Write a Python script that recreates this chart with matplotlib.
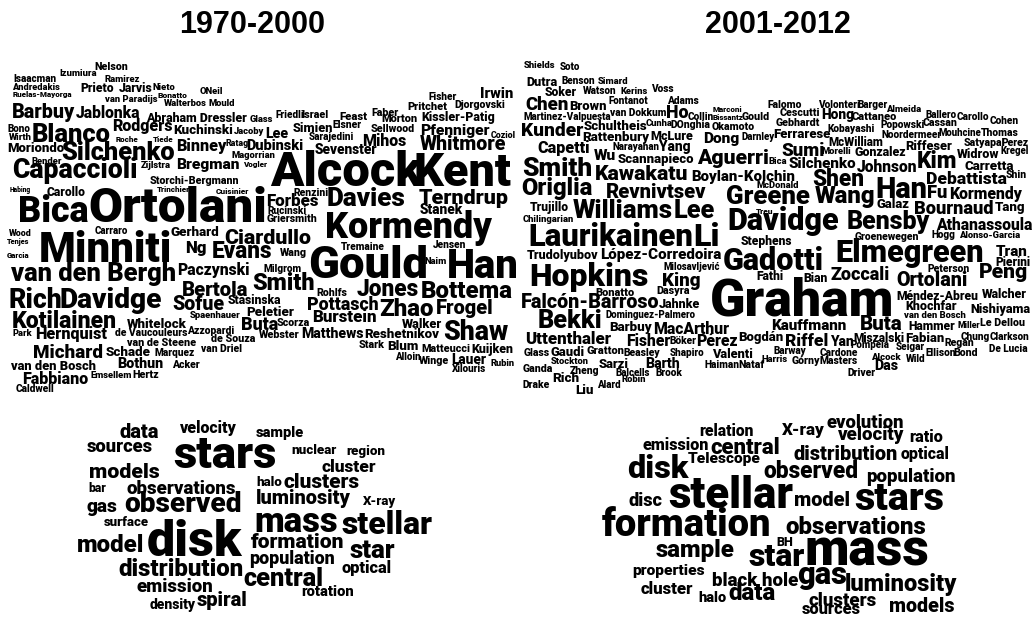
import matplotlib
matplotlib.use("Agg")
import matplotlib.pyplot as plt
from matplotlib.textpath import TextPath
from matplotlib.font_manager import FontProperties

# ---------------- data: words of each cloud ----------------
titles = ["1970-2000", "2001-2012"]

authors_1970_2000 = [
    "Nelson", "Izumiura", "Isaacman", "Ramirez", "Andredakis", "Ruelas-Mayorga", "Prieto", "Jarvis",
    "Nieto", "Bonatto", "ONeil", "van Paradijs", "Walterbos", "Mould", "Barbuy", "Jablonka",
    "Abraham Dressler", "Glass", "Bono", "Blanco", "Rodgers", "Kuchinski", "Jacoby", "Lee", "Wirth",
    "Roche", "Tiede", "Ratag", "Moriondo", "Silchenko", "Binney", "Dubinski", "Bender", "Magorrian",
    "Capaccioli", "Zijlstra", "Bregman", "Vogler", "Storchi-Bergmann", "Habing", "Carollo",
    "Trinchieri", "Cuisinier", "Bica", "Ortolani", "Alcock", "Kent", "Renzini", "Davies", "Terndrup",
    "Forbes", "Stanek", "Rucinski", "Griersmith", "Kormendy", "Wood", "Tenjes", "Garcia", "Carraro",
    "Minniti", "Gerhard", "Ciardullo", "Ng", "Evans", "Wang", "Tremaine", "Jensen", "Gould", "Naim",
    "Han", "van den Bergh", "Paczynski", "Milgrom", "Bertola", "Smith", "Rohlfs", "Jones", "Bottema",
    "Rich", "Davidge", "Sofue", "Stasinska", "Pottasch", "Zhao", "Frogel", "Kotilainen", "Spaenhauer",
    "Peletier", "Whitelock", "Burstein", "Walker", "Shaw", "Park", "Hernquist", "de Vaucouleurs",
    "Azzopardi", "Buta", "Scorza", "Webster", "Matthews", "Reshetnikov", "van de Steene", "de Souza",
    "Michard", "Schade", "Marquez", "van Driel", "Stark", "Blum", "Matteucci", "Kuijken",
    "van den Bosch", "Bothun", "Acker", "Alloin", "Winge", "Lauer", "Rubin", "Xilouris", "Fabbiano",
    "Emsellem", "Hertz", "Caldwell", "Friedli", "Israel", "Feast", "Faber", "Morton", "Fisher",
    "Pritchet", "Djorgovski", "Irwin", "Kissler-Patig", "Elsner", "Sellwood", "Simien", "Pfenniger",
    "Coziol", "Sarajedini", "Mihos", "Whitmore", "Sevenster",
]

authors_2001_2012 = [
    "Shields", "Soto", "Dutra", "Benson", "Simard", "Soker", "Watson", "Kerins", "Voss", "Chen",
    "Brown", "Fontanot", "Adams", "Ho", "van Dokkum", "Martinez-Valpuesta", "Collin", "Marconi",
    "Bissantz", "Gould", "Falomo", "Volonteri", "Barger", "Almeida", "Cescutti", "Hong", "Cattaneo",
    "Ballero", "Carollo", "Cohen", "Gebhardt", "Kobayashi", "Popowski", "Cassan", "Kunder",
    "Schultheis", "Cunha", "DOnghia", "Okamoto", "Noordermeer", "Mouhcine", "Thomas", "Ferrarese",
    "Rattenbury", "McLure", "Dong", "Darnley", "McWilliam", "Satyapal", "Perez", "Sumi", "Morelli",
    "Gonzalez", "Riffeser", "Narayanan", "Yang", "Capetti", "Kregel", "Widrow", "Wu", "Scannapieco",
    "Aguerri", "Bica", "Kim", "Silchenko", "Johnson", "Carretta", "Smith", "Kawakatu",
    "Boylan-Kolchin", "McDonald", "Shen", "Debattista", "Shin", "Origlia", "Revnivtsev", "Greene",
    "Han", "Wang", "Fu", "Kormendy", "Galaz", "Bournaud", "Tang", "Trujillo", "Williams", "Lee",
    "Treu", "Chilingarian", "Davidge", "Bensby", "Athanassoula", "Laurikainen", "Li", "Stephens",
    "Groenewegen", "Hogg", "Alonso-Garcia", "Elmegreen", "Tran", "Trudolyubov", "López-Corredoira",
    "Gadotti", "Pierini", "Milosavljević", "Hopkins", "Peterson", "Peng", "King", "Fathi", "Bian",
    "Zoccali", "Ortolani", "Graham", "Bonatto", "Dasyra", "Falcón-Barroso", "Jahnke", "Méndez-Abreu",
    "Walcher", "Khochfar", "Nishiyama", "van den Bosch", "Bekki", "Dominguez-Palmero", "Kauffmann",
    "Buta", "Hammer", "Miller", "Le Dellou", "Barbuy", "MacArthur", "Uttenthaler", "Fisher", "Böker",
    "Pérez", "Bogdán", "Riffel", "Yan", "Miszalski", "Fabian", "Chung", "Clarkson", "Pompéia",
    "Regan", "Seigar", "De Lucia", "Glass", "Gaudi", "Gratton", "Beasley", "Shapiro", "Valenti",
    "Barway", "Cardone", "Ellison", "Bond", "Alcock", "Wild", "Harris", "Górny", "Masters", "Das",
    "Driver", "Stockton", "Sarzi", "Barth", "Haiman", "Nataf", "Ganda", "Zheng", "Balcells", "Brook",
    "Rich", "Drake", "Alard", "Robin", "Liu",
]

keywords_1970_2000 = [
    "velocity", "data", "sources", "stars", "sample", "nuclear", "region", "models", "cluster", "bar",
    "observations", "halo", "clusters", "gas", "observed", "luminosity", "X-ray", "surface", "mass",
    "stellar", "model", "disk", "formation", "star", "distribution", "population", "optical",
    "central", "emission", "rotation", "density", "spiral",
]

keywords_2001_2012 = [
    "relation", "emission", "central", "X-ray", "evolution", "velocity", "ratio", "Telescope",
    "distribution", "optical", "disk", "observed", "population", "stellar", "disc", "model", "stars",
    "formation", "observations", "BH", "sample", "star", "mass", "properties", "black hole", "gas",
    "luminosity", "cluster", "halo", "data", "clusters", "sources", "models",
]

# ---------------- layout: ink box of each word (left, right, top, baseline) in pixels ----------------
layout_authors_1970_2000 = {
    "Nelson": (96, 127, 63, 70), "Izumiura": (61, 96, 69, 75), "Isaacman": (14, 55, 76, 82),
    "Ramirez": (105, 139, 76, 82), "Andredakis": (12, 60, 84, 90), "Ruelas-Mayorga": (8, 77, 91, 96),
    "Prieto": (79, 115, 84, 92), "Jarvis": (118, 152, 84, 92), "Nieto": (153, 176, 83, 89),
    "Bonatto": (159, 187, 92, 97), "ONeil": (200, 223, 88, 94), "van Paradijs": (104, 157, 95, 101),
    "Walterbos": (163, 207, 99, 105), "Mould": (208, 235, 100, 106), "Barbuy": (13, 74, 103, 117),
    "Jablonka": (77, 140, 104, 117), "Abraham Dressler": (147, 247, 111, 121), "Glass": (250, 273, 115, 121),
    "Bono": (8, 30, 125, 131), "Blanco": (34, 110, 120, 141), "Rodgers": (113, 173, 119, 130),
    "Kuchinski": (175, 232, 124, 133), "Jacoby": (233, 265, 128, 134), "Lee": (267, 288, 127, 137),
    "Wirth": (8, 33, 134, 140), "Roche": (115, 140, 137, 142), "Tiede": (152, 175, 137, 142),
    "Ratag": (227, 247, 140, 146), "Moriondo": (8, 63, 142, 152), "Silchenko": (63, 174, 138, 160),
    "Binney": (177, 227, 140, 151), "Dubinski": (248, 303, 139, 149), "Bender": (32, 62, 157, 163),
    "Magorrian": (233, 275, 151, 157), "Capaccioli": (10, 140, 158, 177), "Zijlstra": (141, 170, 162, 168),
    "Bregman": (175, 241, 158, 168), "Vogler": (242, 268, 162, 167), "Storchi-Bergmann": (142, 247, 177, 184),
    "Habing": (8, 33, 187, 191), "Carollo": (42, 90, 187, 195), "Trinchieri": (156, 192, 187, 192),
    "Cuisinier": (217, 247, 187, 193), "Bica": (20, 87, 195, 222), "Ortolani": (88, 267, 186, 222),
    "Alcock": (270, 422, 149, 185), "Kent": (417, 511, 149, 185), "Renzini": (296, 327, 188, 195),
    "Davies": (329, 405, 187, 206), "Terndrup": (420, 508, 186, 203), "Forbes": (268, 318, 194, 206),
    "Stanek": (421, 463, 204, 214), "Rucinski": (270, 305, 207, 214), "Griersmith": (269, 315, 215, 222),
    "Kormendy": (315, 503, 212, 238), "Wood": (10, 30, 229, 235), "Tenjes": (8, 28, 238, 244),
    "Garcia": (8, 28, 252, 258), "Carraro": (95, 127, 227, 233), "Minniti": (42, 170, 228, 261),
    "Gerhard": (172, 218, 227, 236), "Ciardullo": (225, 310, 228, 243), "Ng": (185, 207, 242, 253),
    "Evans": (207, 278, 243, 258), "Wang": (281, 305, 247, 255), "Tremaine": (343, 383, 242, 249),
    "Jensen": (434, 464, 240, 247), "Gould": (310, 425, 243, 277), "Naim": (425, 446, 257, 263),
    "Han": (450, 517, 247, 278), "van den Bergh": (10, 175, 263, 281), "Paczynski": (178, 248, 263, 274),
    "Milgrom": (266, 300, 264, 271), "Bertola": (183, 247, 280, 295), "Smith": (253, 313, 272, 290),
    "Rohlfs": (318, 346, 289, 296), "Jones": (358, 418, 278, 295), "Bottema": (423, 512, 281, 298),
    "Rich": (10, 60, 287, 307), "Davidge": (60, 163, 287, 307), "Sofue": (173, 223, 295, 310),
    "Stasinska": (226, 283, 296, 304), "Pottasch": (308, 377, 295, 309), "Zhao": (380, 432, 298, 315),
    "Frogel": (433, 497, 300, 314), "Kotilainen": (13, 115, 310, 328), "Spaenhauer": (190, 240, 312, 318),
    "Peletier": (248, 293, 306, 315), "Whitelock": (128, 187, 317, 327), "Burstein": (314, 376, 310, 322),
    "Walker": (402, 441, 317, 327), "Shaw": (444, 507, 320, 339), "Park": (13, 32, 329, 335),
    "Hernquist": (36, 107, 328, 339), "de Vaucouleurs": (118, 185, 328, 335), "Azzopardi": (189, 232, 325, 333),
    "Buta": (242, 277, 317, 330), "Scorza": (278, 308, 318, 325), "Webster": (261, 298, 330, 338),
    "Matthews": (303, 363, 328, 338), "Reshetnikov": (365, 438, 328, 338), "van de Steene": (129, 193, 337, 345),
    "de Souza": (213, 254, 334, 341), "Michard": (35, 102, 343, 357), "Schade": (107, 150, 347, 356),
    "Marquez": (157, 193, 348, 355), "van Driel": (203, 240, 344, 351), "Stark": (360, 384, 341, 348),
    "Blum": (388, 417, 339, 349), "Matteucci": (424, 468, 345, 352), "Kuijken": (473, 513, 343, 353),
    "van den Bosch": (12, 95, 358, 370), "Bothun": (119, 163, 358, 368), "Acker": (173, 198, 360, 367),
    "Alloin": (396, 419, 353, 360), "Winge": (420, 447, 357, 364), "Lauer": (453, 484, 355, 364),
    "Rubin": (492, 513, 358, 366), "Xilouris": (453, 484, 365, 372), "Fabbiano": (23, 87, 371, 383),
    "Emsellem": (91, 132, 372, 378), "Hertz": (134, 157, 370, 377), "Caldwell": (18, 53, 385, 392),
    "Friedli": (277, 302, 111, 118), "Israel": (303, 327, 111, 118), "Feast": (341, 367, 113, 120),
    "Faber": (373, 397, 107, 115), "Morton": (383, 415, 115, 122), "Fisher": (430, 455, 92, 100),
    "Pritchet": (410, 446, 102, 110), "Djorgovski": (457, 503, 99, 107), "Irwin": (481, 513, 88, 98),
    "Kissler-Patig": (423, 495, 110, 121), "Elsner": (334, 360, 121, 128), "Sellwood": (373, 413, 124, 131),
    "Simien": (294, 332, 122, 132), "Pfenniger": (421, 488, 122, 134), "Coziol": (492, 514, 130, 137),
    "Sarajedini": (311, 352, 133, 140), "Mihos": (363, 405, 133, 145), "Whitmore": (420, 505, 135, 150),
    "Sevenster": (316, 377, 143, 153),
}

layout_authors_2001_2012 = {
    "Shields": (525, 554, 62, 68), "Soto": (560, 580, 63, 69), "Dutra": (526, 558, 77, 85),
    "Benson": (563, 594, 77, 83), "Simard": (598, 627, 78, 84), "Soker": (545, 577, 87, 95),
    "Watson": (583, 615, 87, 93), "Kerins": (621, 647, 88, 94), "Voss": (652, 672, 84, 91),
    "Chen": (526, 569, 96, 109), "Brown": (570, 605, 99, 109), "Fontanot": (608, 648, 98, 104),
    "Adams": (668, 697, 96, 103), "Ho": (667, 687, 104, 117), "van Dokkum": (612, 664, 109, 116),
    "Martinez-Valpuesta": (527, 608, 112, 119), "Collin": (689, 712, 112, 119), "Marconi": (714, 742, 107, 112),
    "Bissantz": (714, 742, 114, 120), "Gould": (743, 768, 112, 119), "Falomo": (770, 801, 100, 107),
    "Volonteri": (820, 858, 100, 107), "Barger": (859, 886, 100, 107), "Almeida": (887, 919, 105, 112),
    "Cescutti": (782, 818, 108, 115), "Hong": (823, 852, 109, 118), "Cattaneo": (854, 895, 112, 119),
    "Ballero": (927, 955, 111, 118), "Carollo": (958, 987, 113, 120), "Cohen": (991, 1017, 117, 124),
    "Gebhardt": (778, 819, 118, 125), "Kobayashi": (830, 873, 124, 131), "Popowski": (883, 923, 121, 128),
    "Cassan": (924, 955, 118, 125), "Kunder": (523, 583, 120, 135), "Schultheis": (586, 644, 121, 130),
    "Cunha": (647, 672, 119, 125), "DOnghia": (673, 709, 120, 127), "Okamoto": (714, 753, 123, 130),
    "Noordermeer": (884, 939, 130, 137), "Mouhcine": (941, 980, 128, 135), "Thomas": (983, 1017, 128, 135),
    "Ferrarese": (776, 828, 129, 138), "Rattenbury": (584, 648, 131, 140), "McLure": (652, 693, 130, 140),
    "Dong": (702, 740, 132, 142), "Darnley": (743, 773, 133, 140), "McWilliam": (830, 883, 135, 145),
    "Satyapal": (966, 1003, 138, 146), "Perez": (1003, 1027, 138, 146), "Sumi": (782, 823, 141, 155),
    "Morelli": (823, 850, 147, 153), "Gonzalez": (855, 905, 146, 156), "Riffeser": (908, 950, 141, 150),
    "Narayanan": (615, 658, 143, 150), "Yang": (660, 688, 141, 150), "Capetti": (537, 590, 142, 153),
    "Kregel": (1002, 1027, 147, 154), "Widrow": (957, 998, 148, 158), "Wu": (594, 615, 150, 160),
    "Scannapieco": (621, 691, 154, 163), "Aguerri": (698, 768, 145, 163), "Bica": (770, 786, 158, 164),
    "Kim": (918, 955, 150, 167), "Silchenko": (789, 855, 155, 167), "Johnson": (858, 917, 161, 172),
    "Carretta": (965, 1013, 160, 170), "Smith": (523, 590, 155, 176), "Kawakatu": (592, 692, 165, 180),
    "Boylan-Kolchin": (693, 795, 168, 180), "McDonald": (757, 798, 182, 188), "Shen": (813, 863, 170, 186),
    "Debattista": (927, 1005, 170, 183), "Shin": (1007, 1025, 170, 178), "Origlia": (523, 592, 177, 194),
    "Revnivtsev": (602, 712, 183, 197), "Greene": (728, 810, 185, 203), "Han": (877, 925, 177, 197),
    "Wang": (813, 877, 187, 203), "Fu": (927, 948, 186, 198), "Kormendy": (950, 1021, 186, 198),
    "Galaz": (878, 909, 198, 208), "Bournaud": (915, 992, 198, 214), "Tang": (996, 1023, 202, 211),
    "Trujillo": (532, 567, 203, 211), "Williams": (573, 671, 197, 217), "Lee": (674, 715, 200, 217),
    "Treu": (757, 772, 207, 213), "Chilingarian": (525, 572, 215, 221), "Davidge": (723, 845, 208, 230),
    "Bensby": (848, 929, 211, 229), "Athanassoula": (936, 1031, 218, 229), "Laurikainen": (531, 692, 222, 245),
    "Li": (695, 718, 222, 245), "Stephens": (740, 793, 236, 244), "Groenewegen": (857, 916, 232, 239),
    "Hogg": (932, 954, 232, 238), "Alonso-Garcia": (960, 1018, 232, 238), "Elmegreen": (830, 990, 240, 262),
    "Tran": (997, 1027, 245, 255), "Trudolyubov": (527, 597, 248, 258), "López-Corredoira": (601, 720, 247, 259),
    "Gadotti": (723, 823, 248, 270), "Pierini": (997, 1028, 256, 265), "Milosavljević": (666, 718, 262, 270),
    "Hopkins": (529, 650, 262, 285), "Peterson": (930, 968, 264, 272), "Peng": (980, 1028, 263, 277),
    "King": (663, 700, 272, 285), "Fathi": (757, 782, 272, 280), "Bian": (805, 827, 273, 281),
    "Zoccali": (832, 889, 265, 279), "Ortolani": (898, 967, 272, 286), "Graham": (708, 895, 277, 315),
    "Bonatto": (598, 633, 288, 295), "Dasyra": (658, 688, 287, 294), "Falcón-Barroso": (522, 658, 291, 307),
    "Jahnke": (659, 699, 296, 307), "Méndez-Abreu": (898, 978, 289, 300), "Walcher": (983, 1027, 287, 297),
    "Khochfar": (907, 957, 300, 310), "Nishiyama": (973, 1028, 304, 313), "van den Bosch": (904, 965, 312, 318),
    "Bekki": (538, 602, 310, 328), "Dominguez-Palmero": (609, 692, 310, 317), "Kauffmann": (772, 845, 318, 330),
    "Buta": (861, 901, 315, 329), "Hammer": (910, 955, 320, 330), "Miller": (959, 979, 320, 327),
    "Le Dellou": (982, 1022, 319, 326), "Barbuy": (611, 650, 321, 330), "MacArthur": (654, 728, 321, 334),
    "Uttenthaler": (526, 610, 331, 343), "Fisher": (627, 669, 333, 345), "Böker": (671, 695, 337, 344),
    "Pérez": (697, 736, 335, 346), "Bogdán": (739, 782, 331, 341), "Riffel": (786, 826, 330, 346),
    "Yan": (831, 852, 337, 346), "Miszalski": (855, 904, 330, 342), "Fabian": (906, 943, 330, 341),
    "Chung": (962, 988, 331, 339), "Clarkson": (992, 1028, 331, 339), "Pompéia": (853, 888, 340, 348),
    "Regan": (946, 972, 339, 346), "Seigar": (897, 923, 342, 350), "De Lucia": (991, 1026, 343, 351),
    "Glass": (525, 548, 348, 355), "Gaudi": (552, 584, 345, 355), "Gratton": (588, 623, 347, 354),
    "Beasley": (626, 659, 347, 355), "Shapiro": (671, 702, 347, 355), "Valenti": (713, 752, 348, 358),
    "Barway": (775, 806, 347, 353), "Cardone": (822, 857, 349, 356), "Ellison": (927, 954, 348, 355),
    "Bond": (955, 976, 349, 356), "Alcock": (872, 899, 352, 359), "Wild": (907, 924, 353, 361),
    "Harris": (760, 790, 355, 361), "Górny": (793, 819, 357, 364), "Masters": (822, 856, 357, 364),
    "Das": (876, 897, 360, 369), "Driver": (849, 874, 368, 375), "Stockton": (550, 590, 358, 364),
    "Sarzi": (600, 628, 357, 367), "Barth": (647, 679, 357, 367), "Haiman": (707, 738, 359, 367),
    "Nataf": (740, 763, 360, 368), "Ganda": (524, 552, 365, 372), "Zheng": (571, 597, 366, 373),
    "Balcells": (617, 648, 368, 375), "Brook": (657, 681, 368, 375), "Rich": (554, 578, 373, 382),
    "Drake": (524, 548, 380, 387), "Alard": (598, 619, 380, 387), "Robin": (622, 645, 376, 382),
    "Liu": (576, 592, 383, 393),
}

layout_keywords_1970_2000 = {
    "velocity": (170, 247, 421, 432), "data": (119, 159, 424, 438), "sources": (88, 152, 440, 451),
    "stars": (162, 288, 438, 467), "sample": (252, 307, 427, 437), "nuclear": (292, 337, 445, 454),
    "region": (347, 385, 446, 455), "models": (89, 160, 462, 477), "cluster": (320, 377, 460, 472),
    "bar": (87, 107, 484, 492), "observations": (117, 245, 480, 493), "halo": (256, 283, 477, 486),
    "clusters": (285, 359, 472, 488), "gas": (88, 117, 500, 511), "observed": (117, 248, 492, 512),
    "luminosity": (250, 358, 490, 504), "X-ray": (363, 395, 494, 504), "surface": (100, 153, 517, 526),
    "mass": (257, 337, 507, 531), "stellar": (343, 432, 508, 533), "model": (78, 143, 535, 552),
    "disk": (149, 243, 518, 555), "formation": (247, 347, 533, 548), "star": (350, 395, 542, 558),
    "distribution": (117, 245, 558, 575), "population": (250, 333, 550, 564), "optical": (342, 390, 560, 572),
    "central": (245, 322, 565, 585), "emission": (138, 212, 578, 591), "rotation": (302, 353, 586, 596),
    "density": (150, 195, 598, 608), "spiral": (197, 247, 592, 606),
}

layout_keywords_2001_2012 = {
    "relation": (700, 752, 425, 436), "emission": (643, 708, 439, 450), "central": (711, 778, 437, 453),
    "X-ray": (783, 825, 423, 435), "evolution": (828, 903, 415, 428), "velocity": (836, 907, 427, 440),
    "ratio": (910, 943, 430, 441), "Telescope": (689, 760, 452, 463), "distribution": (795, 897, 445, 460),
    "optical": (901, 948, 447, 458), "disk": (628, 688, 454, 478), "observed": (762, 860, 462, 478),
    "population": (865, 957, 468, 481), "stellar": (670, 793, 472, 508), "disc": (629, 661, 490, 505),
    "model": (793, 850, 492, 506), "stars": (850, 948, 485, 510), "formation": (600, 772, 507, 535),
    "observations": (776, 935, 517, 534), "BH": (774, 795, 537, 545), "sample": (653, 738, 540, 557),
    "star": (748, 805, 545, 565), "mass": (807, 927, 533, 565), "properties": (633, 703, 563, 575),
    "black hole": (713, 797, 568, 585), "gas": (798, 845, 568, 584), "luminosity": (847, 957, 573, 590),
    "cluster": (642, 693, 580, 593), "halo": (698, 727, 592, 602), "data": (729, 776, 583, 600),
    "clusters": (807, 878, 592, 605), "sources": (803, 860, 603, 613), "models": (890, 953, 597, 612),
}

title_pos = [(252, 33), (778, 33)]

# ---------------- drawing ----------------
W, H, DPI = 1032, 619, 100
fig = plt.figure(figsize=(W / DPI, H / DPI), dpi=DPI)
ax = fig.add_axes([0, 0, 1, 1])
ax.set_xlim(0, W)
ax.set_ylim(H, 0)
ax.axis("off")

WORD_FONT = FontProperties(family=["Roboto", "DejaVu Sans"], weight=900)


def place_word(word, box):
    x0, x1, yt, yb = box
    tp = TextPath((0, 0), word, size=100, prop=WORD_FONT)
    bb = tp.get_extents()
    top_ratio = bb.y1 / 100.0
    width_ratio = (bb.x1 - bb.x0) / 100.0
    fs_h = (yb - yt + 1.0) / top_ratio
    fs_w = (x1 - x0 + 1.0) / width_ratio
    slack = 1.06 if (yb - yt) <= 9 else 1.0
    fs_px = min(fs_h, slack * fs_w)
    ink_w = width_ratio * fs_px
    x_text = x0 + ((x1 - x0) - ink_w) / 2.0 - bb.x0 / 100.0 * fs_px
    ax.text(x_text, yb + 0.5, word, fontproperties=WORD_FONT, fontsize=fs_px * 72.0 / DPI,
            ha="left", va="baseline", color="black")


for words, layout in [
    (authors_1970_2000, layout_authors_1970_2000),
    (authors_2001_2012, layout_authors_2001_2012),
    (keywords_1970_2000, layout_keywords_1970_2000),
    (keywords_2001_2012, layout_keywords_2001_2012),
]:
    for w in words:
        place_word(w, layout[w])

for t, (x, y) in zip(titles, title_pos):
    ax.text(x, y, t, family=["Liberation Sans", "DejaVu Sans"], weight="bold", fontsize=22,
            ha="center", va="baseline", color="black")

fig.savefig("out.png", dpi=DPI, facecolor="white")
